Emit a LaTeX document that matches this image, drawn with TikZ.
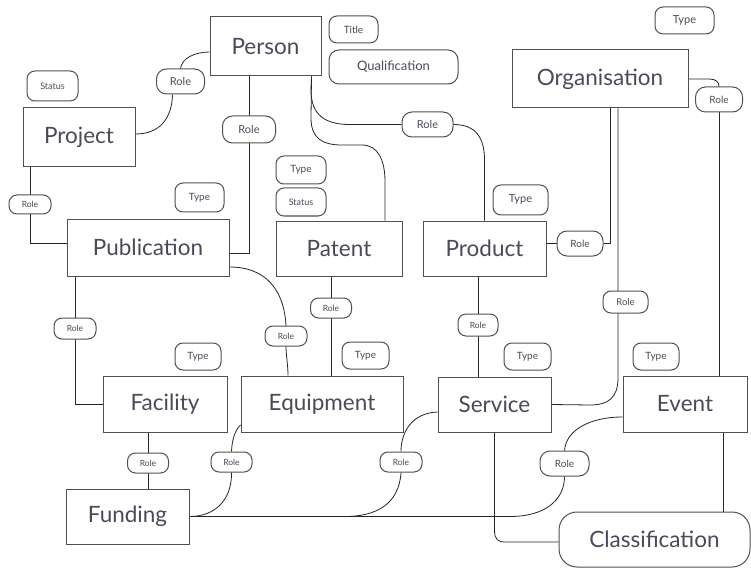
\documentclass[tikz,border=0pt]{standalone}
\usepackage{fontspec}
\setmainfont{Lato}
\usetikzlibrary{backgrounds}
\definecolor{ink}{HTML}{4A4A5A}
\definecolor{edgec}{HTML}{505050}
\begin{document}
\begin{tikzpicture}[x=1pt,y=-1pt,
  ent/.style 2 args={draw=edgec, line width=1pt, fill=white, minimum width=#1, minimum height=#2, inner sep=0pt, text=ink, font=\fontsize{22.5}{26}\selectfont},
  attr/.style 2 args={draw=edgec, line width=1pt, fill=white, rounded corners=8pt, minimum width=#1, minimum height=#2, inner sep=0pt, text=ink, font=\fontsize{10}{12}\selectfont},
  rolebig/.style={attr={48}{25}, rounded corners=10pt, font=\fontsize{11}{13}\selectfont},
  rolesm/.style={attr={42}{20}, rounded corners=8pt, font=\fontsize{8.5}{10}\selectfont},
  conn/.style={draw=black!85, line width=0.8pt}]
\useasboundingbox (0,0) rectangle (751,569);
% entities
\node[ent={111}{59}] (Person) at (265.5,46.5) {Person};
\node[ent={112}{59}] (Project) at (79,137.5) {Project};
\node[ent={176}{58}] (Org) at (600,79) {Organisation};
\node[ent={162}{57}] (Pub) at (148,247.5) {Publication};
\node[ent={126}{55}] (Patent) at (339,248.5) {Patent};
\node[ent={123}{55}] (Product) at (484.5,248.5) {Product};
\node[ent={124}{56}] (Facility) at (165,404) {Facility};
\node[ent={162}{56}] (Equipment) at (322,404) {Equipment};
\node[ent={113}{55}] (Service) at (494.5,404.5) {Service};
\node[ent={124}{56}] (Event) at (685,404) {Event};
\node[ent={123}{55}] (Funding) at (127.5,516.5) {Funding};
\node[ent={191}{55}, rounded corners=18pt] (Class) at (654.5,539.5) {Classification};
% attributes
\node[attr={49}{27}] (title) at (353.5,29.5) {Title};
\node[attr={129}{34}, rounded corners=10pt, font=\fontsize{13}{15}\selectfont] (qual) at (393.5,67) {Qualification};
\node[attr={51}{30}, font=\fontsize{9}{11}\selectfont] (statusA) at (52.5,86) {Status};
\node[attr={59}{27}, font=\fontsize{11}{13}\selectfont] (typeOrg) at (684.5,20.5) {Type};
\node[attr={49}{29}] (typePub) at (199.5,197.5) {Type};
\node[attr={50}{28}] (typePat) at (301,170) {Type};
\node[attr={50}{28}, font=\fontsize{9}{11}\selectfont] (statusP) at (301,202) {Status};
\node[attr={55}{30}, font=\fontsize{11}{13}\selectfont] (typeProd) at (520.5,200) {Type};
\node[attr={46}{27}] (typeFac) at (198,356.5) {Type};
\node[attr={47}{27}] (typeEq) at (365.5,355.5) {Type};
\node[attr={47}{27}] (typeSer) at (527.5,356.5) {Type};
\node[attr={46}{27}] (typeEv) at (656,356.5) {Type};
% roles
\node[rolebig] (r1) at (180.5,81.5) {Role};
\node[rolebig, minimum width=53, minimum height=27] (r2) at (249,129.5) {Role};
\node[rolebig, minimum width=51] (r3) at (427.5,124.5) {Role};
\node[rolebig, minimum width=47, font=\fontsize{10}{12}\selectfont] (r4) at (719,99.5) {Role};
\node[rolesm, minimum height=19] (r5) at (30,204.5) {Role};
\node[rolesm, minimum height=21] (r6) at (75,328.5) {Role};
\node[rolesm, minimum width=41] (r7) at (331,308) {Role};
\node[rolesm] (r8) at (286,336) {Role};
\node[rolesm, minimum width=40, minimum height=22] (r9) at (478,325) {Role};
\node[rolebig, minimum width=46, font=\fontsize{10}{12}\selectfont] (r10) at (580,243.5) {Role};
\node[rolesm, minimum width=45, minimum height=22, font=\fontsize{9.5}{11}\selectfont] (r11) at (625.5,302) {Role};
\node[rolesm, minimum width=41] (r12) at (148,463) {Role};
\node[rolesm, minimum width=41] (r13) at (231.5,462) {Role};
\node[rolesm] (r14) at (401,462) {Role};
\node[rolebig, minimum width=49, font=\fontsize{10}{12}\selectfont] (r15) at (564.5,463.5) {Role};
% helper coordinates
\coordinate (pBR) at ([xshift=-10pt]Person.south east);
\coordinate (pubE) at ([yshift=-5.5pt]Pub.east);
\coordinate (pubW) at ([yshift=4.5pt]Pub.west);
\coordinate (ev) at ([xshift=38pt]Event.south);
\coordinate (j1) at (345,516.5);
\begin{scope}[on background layer]
\fill[white] (0,0) rectangle (751,569);
\draw[conn] ([yshift=3.5pt]Project.east) .. controls (160,134) and (172,118) .. ([xshift=-8pt]r1.south);
\draw[conn] (r1.north) .. controls (182,58) and (195,52) .. ([yshift=-5.5pt]Person.west);
\draw[conn] (r2 |- Person.south) -- (r2 |- pubE) -- (pubE);
\draw[conn] (pBR) -- (311,90) .. controls (311,115) and (325,124.5) .. (350,124.5) -- (r3.west);
\draw[conn] (r3.east) .. controls (476,124.5) and (484.5,138) .. (484.5,160) -- (Product.north);
\draw[conn] (pBR) -- (311,118) .. controls (311,138) and (322,145) .. (342,145) -- (362,145) .. controls (378,145) and (385,160) .. (385,182) -- ([xshift=46pt]Patent.north);
\draw[conn] (r5 |- Project.south) -- (r5 |- pubW) -- (pubW);
\draw[conn] (r6 |- Pub.south) -- (r6 |- Facility.west) -- (Facility.west);
\draw[conn] ([yshift=-19.5pt]Pub.east) .. controls (266,267) and (284,290) .. (r8.north) -- (r8.south) .. controls (286,355) and (288,365) .. ([xshift=-34pt]Equipment.north);
\draw[conn] (r7 |- Patent.south) -- (r7 |- Equipment.north);
\draw[conn] (r9 |- Product.south) -- (r9 |- Service.north);
\draw[conn] (r10 -| Product.east) -- (r10.west);
\draw[conn] (r10.east) -| ([xshift=10pt]Org.south);
\draw[conn] ([xshift=18pt]Org.south) -- (618,378) .. controls (618,398) and (608,405) .. (590,405) -- (Service.east);
\draw[conn] (Org.east) -- (709,79) .. controls (716,79) and (719,82) .. (r4.north);
\draw[conn] (r4.south) -- (r4 |- Event.north);
\draw[conn] (ev) -- (ev |- Class.north);
\draw[conn] (r12 |- Facility.south) -- (r12 |- Funding.north);
\draw[conn] ([yshift=-21pt]Equipment.west) .. controls (235,430) and (232,440) .. (r13.north);
\draw[conn] (r13.south) .. controls (232,500) and (215,516.5) .. (Funding.east);
\draw[conn] (Funding.east) -- (510,516.5) .. controls (545,516.5) and (564.5,500) .. (r15.south);
\draw[conn] (r15.north) .. controls (566,430) and (590,417) .. ([yshift=-13pt]Event.west);
\draw[conn] ([yshift=-7.5pt]Service.west) .. controls (412,413) and (401,432) .. (r14.north);
\draw[conn] (r14.south) .. controls (399,505) and (375,516.5) .. (j1);
\draw[conn] (Service.south) -- (494.5,530) .. controls (494.5,540) and (498,542) .. (506,542) -- ([yshift=-2.5pt]Class.west);
\end{scope}
\end{tikzpicture}
\end{document}
